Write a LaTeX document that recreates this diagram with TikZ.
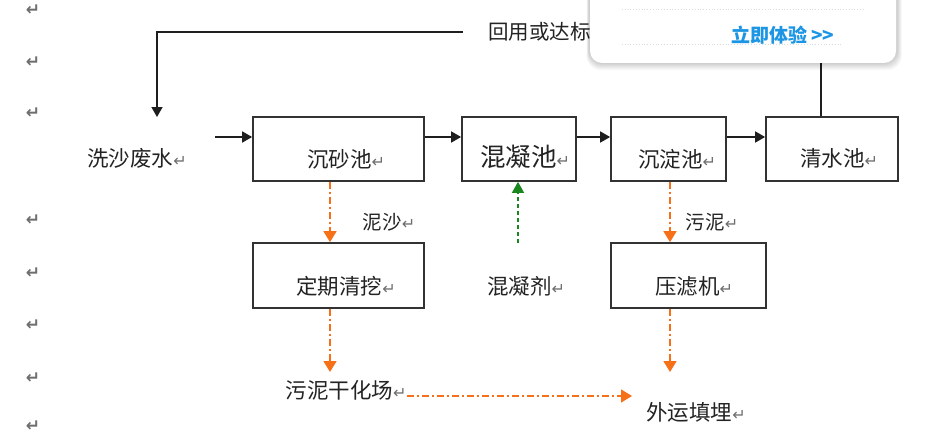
\documentclass[tikz,border=0pt]{standalone}
\usepackage{fontspec}
\setmainfont{Noto Sans CJK SC}
\newfontfamily\dvfont{DejaVu Sans}
\usetikzlibrary{arrows.meta}
\definecolor{boxc}{RGB}{50,50,50}
\definecolor{linec}{RGB}{30,30,30}
\definecolor{txtc}{RGB}{35,35,35}
\definecolor{retc}{RGB}{110,110,110}
\definecolor{orangec}{RGB}{246,112,24}
\definecolor{greenc}{RGB}{25,135,30}
\definecolor{bluec}{RGB}{28,150,228}
\definecolor{sepc}{RGB}{215,220,225}
\newcommand\retm{{\dvfont\fontsize{16}{16}\selectfont\color{retc}↵}}
\begin{document}
\begin{tikzpicture}[x=1pt,y=-1pt,
  stagebox/.style={draw=boxc, line width=1.7pt, inner sep=0pt, minimum height=64pt},
  lbl/.style={inner sep=0pt, text=txtc, font=\fontsize{21.5}{22}\selectfont},
  biglbl/.style={inner sep=0pt, text=txtc, font=\fontsize{25.5}{26}\selectfont},
  smalllbl/.style={inner sep=0pt, text=txtc, font=\fontsize{19.5}{20}\selectfont},
  marginret/.style={inner sep=0pt, text=retc, font=\dvfont\bfseries\fontsize{17}{17}\selectfont},
  flow/.style={draw=linec, line width=1.5pt, -{Triangle[length=10pt,width=11pt]}},
  plain/.style={draw=linec, line width=1.5pt},
  sludge/.style={draw=orangec, line width=1.4pt, dash pattern=on 7pt off 3pt on 2pt off 3pt,
    -{Triangle[length=11pt,width=13pt,fill=orangec]}},
  dosing/.style={draw=greenc, line width=1.6pt, dash pattern=on 4pt off 3pt,
    -{Triangle[length=11pt,width=12pt,fill=greenc]}}]
\useasboundingbox (0,0) rectangle (948,436);
\fill[white] (0,0) rectangle (948,436);

% margin paragraph marks
\foreach \yy [count=\i] in {10,62,113,220,273,325,378,426}
  \node[marginret] (m\i) at (33,\yy) {↵};

% boxes
\node[stagebox, minimum width=171pt] (b1) at (338.5,149) {};
\node[stagebox, minimum width=114pt] (b2) at (519,149) {};
\node[stagebox, minimum width=115pt] (b3) at (668.5,149) {};
\node[stagebox, minimum width=132pt] (b4) at (832,149) {};
\node[stagebox, minimum width=171pt, minimum height=65pt] (b5) at (338.5,275.5) {};
\node[stagebox, minimum width=155pt, minimum height=65pt] (b6) at (688.5,275.5) {};

% labels
\node[lbl] (t0) at (137,158) {洗沙废水\retm};
\node[lbl] (t1) at (346,159) {沉砂池\retm};
\node[biglbl] (t2) at (525,157) {混凝池\retm};
\node[lbl] (t3) at (677,159) {沉淀池\retm};
\node[lbl] (t4) at (839,158) {清水池\retm};
\node[smalllbl] (t5) at (389,222) {泥沙\retm};
\node[smalllbl] (t6) at (712,222) {污泥\retm};
\node[lbl] (t7) at (346,286) {定期清挖\retm};
\node[lbl] (t8) at (526,286) {混凝剂\retm};
\node[lbl] (t9) at (694,286) {压滤机\retm};
\node[lbl] (t10) at (346,390) {污泥干化场\retm};
\node[lbl] (t11) at (696,412) {外运填埋\retm};
\node[lbl, font=\fontsize{20.5}{21}\selectfont, anchor=west] (t12) at (488,32) {回用或达标排放};

% coordinates
\coordinate (ylev) at (0,137);
\coordinate (feed) at (215,137);
\coordinate (rc) at (821,32);
\coordinate (lc) at (157,32);
\coordinate (lend) at (157,117);
\coordinate (dryend) at (330,372);
\coordinate (fillend) at (670,372);
\coordinate (drystart) at (407,396);
\coordinate (fillin) at (632,396);
\coordinate (agent) at (518,243);

% main flow
\draw[flow] (feed) -- (b1.west |- ylev);
\draw[flow] (b1.east |- ylev) -- (b2.west |- ylev);
\draw[flow] (b2.east |- ylev) -- (b3.west |- ylev);
\draw[flow] (b3.east |- ylev) -- (b4.west |- ylev);

% recycle line
\draw[plain] (b4.north -| rc) -- (rc) -- ([xshift=10pt]t12.east |- rc);
\draw[flow] ([xshift=-25pt]t12.west) -- (lc) -- (lend);

% sludge lines
\draw[sludge] (b1.south -| dryend) -- (b5.north -| dryend);
\draw[sludge] (b5.south -| dryend) -- (dryend);
\draw[sludge] (b3.south -| fillend) -- (b6.north -| fillend);
\draw[sludge] (b6.south -| fillend) -- (fillend);
\draw[sludge] (drystart) -- (fillin);

% coagulant
\draw[dosing] (agent) -- (b2.south -| agent);

% popup overlay
\foreach \k in {1,...,8}
  \fill[black, opacity=0.022, rounded corners=14pt] (589-0.3*\k,-20) rectangle (897+0.6*\k,63+0.9*\k);
\fill[white, rounded corners=12pt] (590,-20) rectangle (896,63);
\draw[sepc, line width=0.8pt, dotted] (622,9) -- (863,9);
\draw[sepc, line width=0.8pt, dotted] (622,44) -- (843,44);
\node[inner sep=0pt, text=bluec, font=\fontsize{19}{19}\selectfont\bfseries] (pop) at (783,35) {立即体验\,>{}>};
\end{tikzpicture}
\end{document}
